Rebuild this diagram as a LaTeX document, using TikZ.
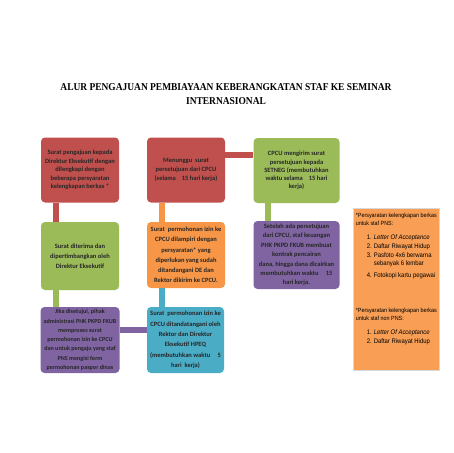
\documentclass[tikz,border=0pt]{standalone}
\usepackage{fontspec}
\setmainfont{Carlito}
\newfontfamily\titlefont[FakeStretch=0.9]{Liberation Serif}
\newfontfamily\notefont[FakeStretch=0.9]{Liberation Sans}
\usetikzlibrary{positioning}
\definecolor{boxred}{HTML}{C0504D}
\definecolor{boxgreen}{HTML}{9BBB59}
\definecolor{boxorange}{HTML}{F79646}
\definecolor{boxpurple}{HTML}{8064A2}
\definecolor{boxblue}{HTML}{4BACC6}
\newcommand{\stagefont}[1]{\fontsize{6.5}{#1}\selectfont\bfseries}
\newcommand{\reqitem}[2]{\hspace*{11pt}{\fontsize{6.6}{8}\selectfont\makebox[7pt][l]{#1}#2}}

\begin{document}
\begin{tikzpicture}[x=1pt,y=-1pt]
    \tikzstyle{stage}=[rectangle, rounded corners=4pt, align=center, inner sep=1pt, text=black!85, font=\stagefont{9}]
    \tikzstyle{red stage}=[stage, fill=boxred, minimum width=78pt, minimum height=65pt]
    \tikzstyle{green stage}=[stage, fill=boxgreen]
    \tikzstyle{orange stage}=[stage, fill=boxorange]
    \tikzstyle{purple stage}=[stage, fill=boxpurple]
    \tikzstyle{blue stage}=[stage, fill=boxblue]
    \tikzstyle{link}=[line width=6pt]
    \tikzstyle{note}=[rectangle, fill=boxorange!92!white, draw=black!15, line width=0.8pt, minimum width=86pt, minimum height=162pt]
    \useasboundingbox (0,0) rectangle (453,453);

    % Title
    \node[font=\titlefont\bfseries\fontsize{10.5}{14}\selectfont, align=center] (title) at (226,94)
        {ALUR PENGAJUAN PEMBIAYAAN KEBERANGKATAN STAF KE SEMINAR\\ INTERNASIONAL};

    % First row
    \node[red stage, font=\stagefont{8.6}] (b1) at (80,170) {Surat pengajuan kepada\\ Direktur Eksekutif dengan\\ dilengkapi dengan\\ beberapa persyaratan\\ kelengkapan berkas *};
    \node[red stage] (b2) at (186,170) {Menunggu\ \ surat\\ persetujuan dari CPCU\\ (selama\ \ \ \ 15 hari kerja)};
    \node[green stage, minimum width=86pt, minimum height=65pt, font=\stagefont{8.2}] (b3) at (296.5,170.5) {CPCU mengirim surat\\ persetujuan kepada\\ SETNEG (membutuhkan\\ waktu selama\ \ \ \ 15 hari\\ kerja)};

    % Second row
    \node[green stage, minimum width=78pt, minimum height=68pt, font=\stagefont{10}] (b4) at (80,256) {Surat diterima dan\\ dipertimbangkan oleh\\ Direktur Eksekutif};
    \node[orange stage, minimum width=78pt, minimum height=66pt, font=\stagefont{10.2}] (b5) at (186,255) {Surat\ \ permohonan izin ke\\ CPCU dilampiri dengan\\ persyaratan* yang\\ diperlukan yang sudah\\ ditandangani DE dan\\ Rektor dikirim ke CPCU.};
    \node[purple stage, minimum width=86pt, minimum height=68pt, font=\stagefont{9.4}] (b6) at (296.5,255) {Setelah ada persetujuan\\ dari CPCU, staf keuangan\\ PHK PKPD FKUB membuat\\ kontrak pencairan\\ dana, hingga dana dicairkan\\ membutuhkan waktu\ \ \ \ \ 15\\ hari kerja.};

    % Third row
    \node[purple stage, minimum width=79pt, minimum height=66pt, font=\fontsize{6.1}{9.3}\selectfont\bfseries] (b7) at (80,340) {Jika disetujui, pihak\\ administrasi PHK PKPD FKUB\\ memproses surat\\ permohonan izin ke CPCU\\ dan untuk pengaju yang staf\\ PNS mengisi form\\ permohonan paspor dinas};
    \node[blue stage, minimum width=77pt, minimum height=66pt, font=\stagefont{10.3}] (b8) at (185.5,340) {Surat\ \ permohonan izin ke\\ CPCU ditandatangani oleh\\ Rektor dan Direktur\\ Eksekutif HPEQ\\ (membutuhkan waktu\ \ \ \ \ 5\\ hari\ \ kerja)};

    % Connect the boxes
    \foreach \src/\dst/\col in {b1/b4/boxred, b4/b7/boxgreen, b2/b5/boxorange, b5/b8/boxblue, b3/b6/boxgreen}
        \draw[link, draw=\col] ([xshift=15pt]\src.south west) -- ([xshift=15pt]\src.south west |- \dst.north);
    \draw[link, draw=boxred] ([yshift=-18pt]b2.north east) -- ([yshift=-18pt]b2.north east -| b3.west);
    \draw[link, draw=boxpurple] ([yshift=-23pt]b7.north east) -- ([yshift=-23pt]b7.north east -| b8.west);

    % Requirements
    \node[note] (req) at (396,289) {};
    \node[anchor=north west, align=left, inner sep=0pt, font=\notefont\fontsize{6}{8}\selectfont] (reqtext) at ([xshift=3pt,yshift=-5pt]req.north west)
        {*Persyaratan kelengkapan berkas\\ untuk staf PNS:\\[6.5pt]
         \reqitem{1.}{\textit{Letter Of Acceptance}}\\[1pt]
         \reqitem{2.}{Daftar Riwayat Hidup}\\[1pt]
         \reqitem{3.}{Pasfoto 4x6 berwarna}\\
         \hspace*{18pt}{\fontsize{6.6}{8}\selectfont sebanyak 6 lembar}\\[4pt]
         \reqitem{4.}{Fotokopi kartu pegawai}\\[27pt]
         *Persyaratan kelengkapan berkas\\ untuk staf non PNS:\\[6pt]
         \reqitem{1.}{\textit{Letter Of Acceptance}}\\[1pt]
         \reqitem{2.}{Daftar Riwayat Hidup}};
\end{tikzpicture}
\end{document}
